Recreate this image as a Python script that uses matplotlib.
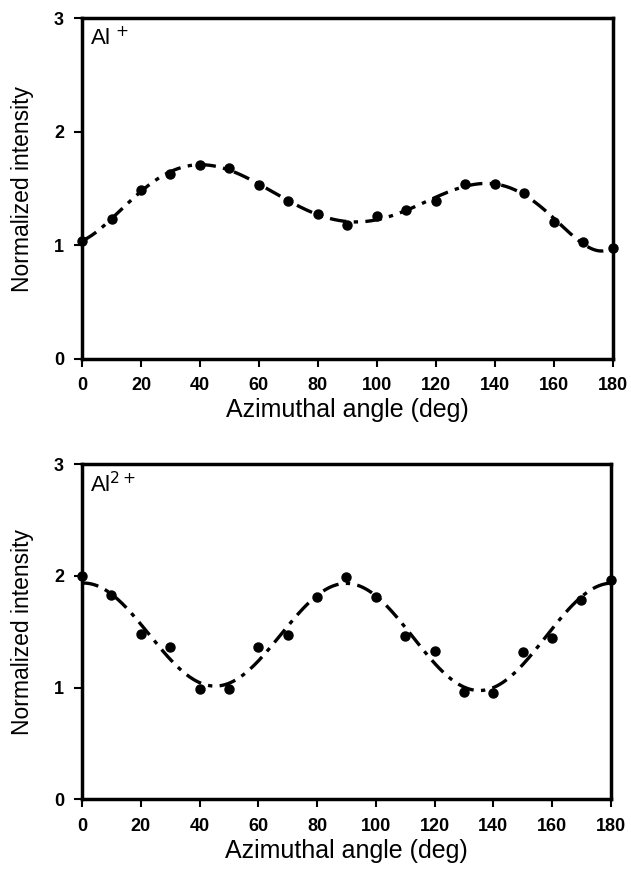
import numpy as np
import matplotlib
matplotlib.use("Agg")
import matplotlib.pyplot as plt

plt.rcParams['font.family'] = ['Liberation Sans', 'DejaVu Sans']

angles = [0, 10, 20, 30, 40, 50, 60, 70, 80, 90, 100, 110, 120, 130, 140, 150, 160, 170, 180]
al1 = [1.04, 1.23, 1.49, 1.63, 1.71, 1.68, 1.53, 1.39, 1.28, 1.18, 1.26, 1.31, 1.39, 1.54, 1.54, 1.46, 1.21, 1.03, 0.98]
al2 = [2.00, 1.83, 1.48, 1.36, 0.99, 0.99, 1.36, 1.47, 1.81, 1.99, 1.81, 1.46, 1.33, 0.96, 0.95, 1.32, 1.44, 1.78, 1.96]
xticks = [0, 20, 40, 60, 80, 100, 120, 140, 160, 180]
yticks = [0, 1, 2, 3]
labels = [r'Al$^{\,+}$', r'Al$^{2+}$']


def poly_fit(x, y, xs, deg):
    c = np.polyfit(np.asarray(x, float) / 180.0, np.asarray(y, float), deg)
    return np.polyval(c, xs / 180.0)


def fourier_fit(x, y, xs, nh):
    th = np.radians(np.asarray(x, float))
    ths = np.radians(xs)
    def basis(t):
        cols = [np.ones_like(t)]
        for k in range(1, nh + 1):
            cols += [np.cos(2 * k * t), np.sin(2 * k * t)]
        return np.column_stack(cols)
    c, *_ = np.linalg.lstsq(basis(th), np.asarray(y, float), rcond=None)
    return basis(ths) @ c


fig = plt.figure(figsize=(6.31, 8.69), dpi=100)
ax1 = fig.add_axes([0.130, 0.587, 0.841, 0.392])
ax2 = fig.add_axes([0.130, 0.080, 0.838, 0.386])

xs = np.linspace(0, 180, 400)
curves = [poly_fit(angles, al1, xs, 7), fourier_fit(angles, al2, xs, 2)]
for ax, data, lab, cy in [(ax1, al1, labels[0], curves[0]), (ax2, al2, labels[1], curves[1])]:
    ax.plot(xs, cy, color='black', lw=2.4, dashes=(5, 2.2, 1.3, 2.2))
    ax.plot(angles, data, 'o', color='black', ms=6.5, clip_on=False)
    ax.set_xlim(0, 180)
    ax.set_ylim(0, 3)
    ax.set_xticks(xticks)
    ax.set_yticks(yticks)
    for s in ax.spines.values():
        s.set_linewidth(2.5)
    ax.tick_params(direction='out', length=6, width=1.5, labelsize=13, pad=7)
    for t in ax.get_xticklabels() + ax.get_yticklabels():
        t.set_fontweight('bold')
    ax.set_xlabel('Azimuthal angle (deg)', fontsize=18, labelpad=3)
    ax.set_ylabel('Normalized intensity', fontsize=16.5, labelpad=14)
    ax.text(0.015, 0.975, lab, transform=ax.transAxes, fontsize=16,
            va='top', ha='left')

fig.savefig('out.png', dpi=100)
